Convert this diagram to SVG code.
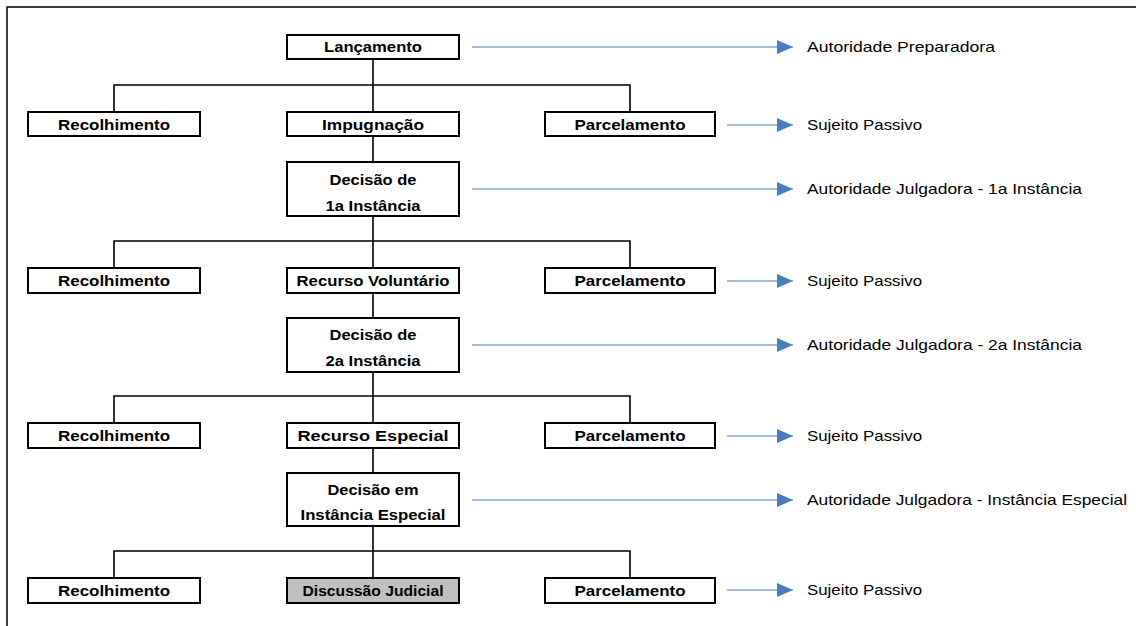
<svg xmlns="http://www.w3.org/2000/svg" width="1136" height="626" viewBox="0 0 1136 626">
  <style>
    .box { fill: #ffffff; stroke: #000000; stroke-width: 2; }
    .gray { fill: #c0c0c0; }
    .lbl { font-family: "Liberation Sans", Arial, sans-serif; font-size: 15px; font-weight: bold; fill: #000000; text-anchor: middle; }
    .side { font-family: "Liberation Sans", Arial, sans-serif; font-size: 15px; fill: #000000; }
    .tree { fill: none; stroke: #000000; stroke-width: 1.6; }
    .flow { fill: none; stroke: #4a7ebb; stroke-width: 1.2; }
  </style>
  <defs>
    <marker id="head" viewBox="0 0 16 14" markerWidth="16" markerHeight="14" refX="16" refY="7" orient="auto" markerUnits="userSpaceOnUse">
      <path d="M0,0 L16,7 L0,14 Z" fill="#4a7ebb"/>
    </marker>
  </defs>

  <rect width="1136" height="626" fill="#ffffff"/>
  <!-- page frame -->
  <polyline points="7,626 7,7 1136,7" fill="none" stroke="#000000" stroke-width="1.5"/>

  <g id="connectors">
    <!-- trunk -->
    <line class="tree" x1="373" y1="59" x2="373" y2="578"/>
    <!-- branches -->
    <polyline class="tree" points="114,112 114,85 630,85 630,112"/>
    <polyline class="tree" points="114,268 114,241 630,241 630,268"/>
    <polyline class="tree" points="114,423 114,396 630,396 630,423"/>
    <polyline class="tree" points="114,578 114,551 630,551 630,578"/>
    <!-- responsibility arrows -->
    <line class="flow" x1="472" y1="47" x2="793" y2="47" marker-end="url(#head)"/>
    <line class="flow" x1="727" y1="125" x2="793" y2="125" marker-end="url(#head)"/>
    <line class="flow" x1="472" y1="189" x2="793" y2="189" marker-end="url(#head)"/>
    <line class="flow" x1="727" y1="281" x2="793" y2="281" marker-end="url(#head)"/>
    <line class="flow" x1="472" y1="345" x2="793" y2="345" marker-end="url(#head)"/>
    <line class="flow" x1="727" y1="436" x2="793" y2="436" marker-end="url(#head)"/>
    <line class="flow" x1="472" y1="500" x2="793" y2="500" marker-end="url(#head)"/>
    <line class="flow" x1="727" y1="590" x2="793" y2="590" marker-end="url(#head)"/>
  </g>

  <!-- stage 0 -->
  <g id="lancamento">
    <rect class="box" x="287" y="35" width="172" height="24"/>
    <text class="lbl" x="373" y="52" textLength="98" lengthAdjust="spacingAndGlyphs">Lançamento</text>
  </g>

  <!-- stage 1 -->
  <g id="recolhimento-1">
    <rect class="box" x="28" y="112" width="172" height="24"/>
    <text class="lbl" x="114" y="130" textLength="112" lengthAdjust="spacingAndGlyphs">Recolhimento</text>
  </g>
  <g id="impugnacao">
    <rect class="box" x="287" y="112" width="172" height="24"/>
    <text class="lbl" x="373" y="130" textLength="102" lengthAdjust="spacingAndGlyphs">Impugnação</text>
  </g>
  <g id="parcelamento-1">
    <rect class="box" x="545" y="112" width="170" height="24"/>
    <text class="lbl" x="630" y="130" textLength="111" lengthAdjust="spacingAndGlyphs">Parcelamento</text>
  </g>
  <g id="decisao-1">
    <rect class="box" x="287" y="162" width="172" height="54"/>
    <text class="lbl" x="373" y="185" textLength="87" lengthAdjust="spacingAndGlyphs">Decisão de</text>
    <text class="lbl" x="373" y="211" textLength="95" lengthAdjust="spacingAndGlyphs">1a Instância</text>
  </g>

  <!-- stage 2 -->
  <g id="recolhimento-2">
    <rect class="box" x="28" y="268" width="172" height="25"/>
    <text class="lbl" x="114" y="286" textLength="112" lengthAdjust="spacingAndGlyphs">Recolhimento</text>
  </g>
  <g id="recurso-voluntario">
    <rect class="box" x="287" y="268" width="172" height="25"/>
    <text class="lbl" x="373" y="286" textLength="153" lengthAdjust="spacingAndGlyphs">Recurso Voluntário</text>
  </g>
  <g id="parcelamento-2">
    <rect class="box" x="545" y="268" width="170" height="25"/>
    <text class="lbl" x="630" y="286" textLength="111" lengthAdjust="spacingAndGlyphs">Parcelamento</text>
  </g>
  <g id="decisao-2">
    <rect class="box" x="287" y="318" width="172" height="54"/>
    <text class="lbl" x="373" y="340" textLength="87" lengthAdjust="spacingAndGlyphs">Decisão de</text>
    <text class="lbl" x="373" y="366" textLength="95" lengthAdjust="spacingAndGlyphs">2a Instância</text>
  </g>

  <!-- stage 3 -->
  <g id="recolhimento-3">
    <rect class="box" x="28" y="423" width="172" height="25"/>
    <text class="lbl" x="114" y="441" textLength="112" lengthAdjust="spacingAndGlyphs">Recolhimento</text>
  </g>
  <g id="recurso-especial">
    <rect class="box" x="287" y="423" width="172" height="25"/>
    <text class="lbl" x="373" y="441" textLength="151" lengthAdjust="spacingAndGlyphs">Recurso Especial</text>
  </g>
  <g id="parcelamento-3">
    <rect class="box" x="545" y="423" width="170" height="25"/>
    <text class="lbl" x="630" y="441" textLength="111" lengthAdjust="spacingAndGlyphs">Parcelamento</text>
  </g>
  <g id="decisao-especial">
    <rect class="box" x="287" y="473" width="172" height="53"/>
    <text class="lbl" x="373" y="495" textLength="91" lengthAdjust="spacingAndGlyphs">Decisão em</text>
    <text class="lbl" x="373" y="520" textLength="145" lengthAdjust="spacingAndGlyphs">Instância Especial</text>
  </g>

  <!-- stage 4 -->
  <g id="recolhimento-4">
    <rect class="box" x="28" y="578" width="172" height="25"/>
    <text class="lbl" x="114" y="596" textLength="112" lengthAdjust="spacingAndGlyphs">Recolhimento</text>
  </g>
  <g id="discussao-judicial">
    <rect class="box gray" x="287" y="578" width="172" height="25"/>
    <text class="lbl" x="373" y="596" textLength="141" lengthAdjust="spacingAndGlyphs">Discussão Judicial</text>
  </g>
  <g id="parcelamento-4">
    <rect class="box" x="545" y="578" width="170" height="25"/>
    <text class="lbl" x="630" y="596" textLength="111" lengthAdjust="spacingAndGlyphs">Parcelamento</text>
  </g>

  <!-- responsible parties -->
  <g id="roles">
    <text class="side" x="807" y="52" textLength="188" lengthAdjust="spacingAndGlyphs">Autoridade Preparadora</text>
    <text class="side" x="807" y="130" textLength="115" lengthAdjust="spacingAndGlyphs">Sujeito Passivo</text>
    <text class="side" x="807" y="194" textLength="275" lengthAdjust="spacingAndGlyphs">Autoridade Julgadora - 1a Instância</text>
    <text class="side" x="807" y="286" textLength="115" lengthAdjust="spacingAndGlyphs">Sujeito Passivo</text>
    <text class="side" x="807" y="350" textLength="275" lengthAdjust="spacingAndGlyphs">Autoridade Julgadora - 2a Instância</text>
    <text class="side" x="807" y="441" textLength="115" lengthAdjust="spacingAndGlyphs">Sujeito Passivo</text>
    <text class="side" x="807" y="505" textLength="320" lengthAdjust="spacingAndGlyphs">Autoridade Julgadora - Instância Especial</text>
    <text class="side" x="807" y="595" textLength="115" lengthAdjust="spacingAndGlyphs">Sujeito Passivo</text>
  </g>
</svg>
